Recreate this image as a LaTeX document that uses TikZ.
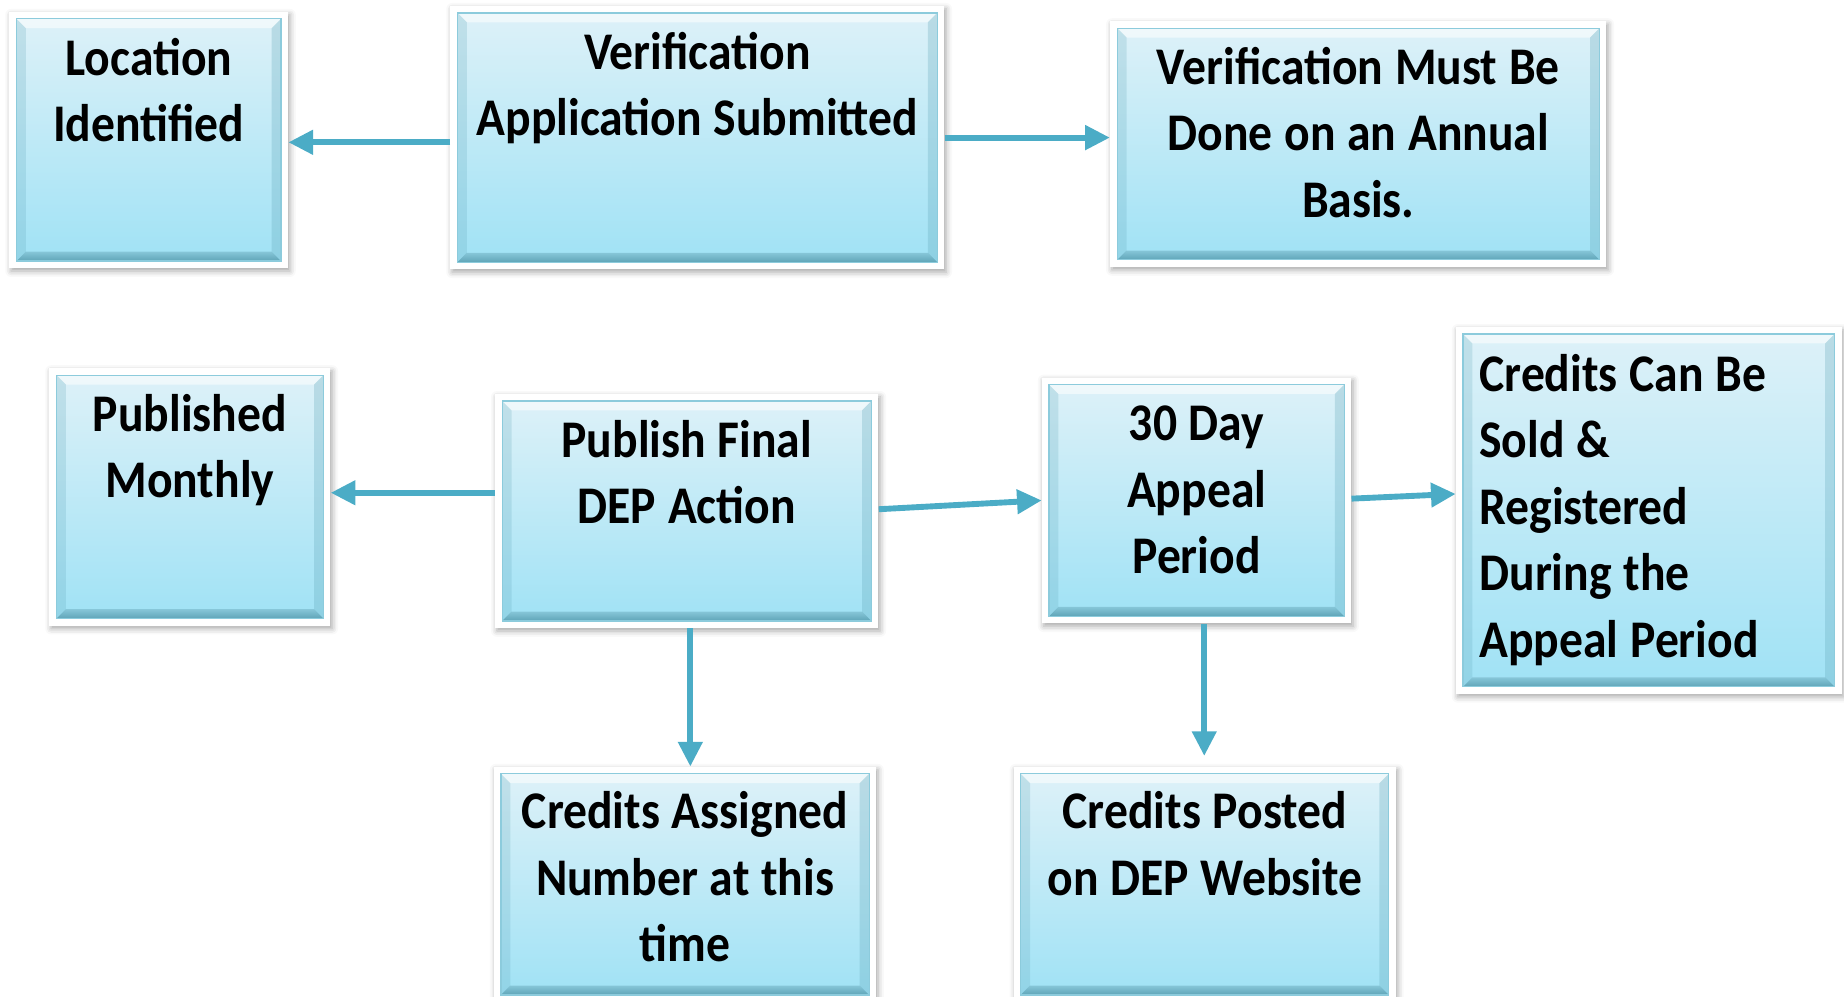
\documentclass[tikz,border=0pt]{standalone}
\usepackage{fontspec}
\setmainfont[FakeStretch=0.9]{Carlito}
\usetikzlibrary{arrows.meta,calc,shadows.blur}
\definecolor{cTop}{HTML}{DDF1F8}
\definecolor{cBot}{HTML}{A0E2F5}
\definecolor{cBevB}{HTML}{86C6D8}
\definecolor{cBevD}{HTML}{5FA4B7}
\definecolor{cEdge}{HTML}{8CCBDC}
\definecolor{arrC}{HTML}{4BACC6}
\newcommand\cardface{%
  \path let \p1=(path picture bounding box.south west), \p2=(path picture bounding box.north east) in
    (\x1+6pt,\y1+6pt) coordinate (A) (\x2-6pt,\y2-6pt) coordinate (B);
  \shade[top color=cTop,bottom color=cBot] (A) rectangle (B);
  \shade[top color=cBevB,bottom color=cBevD] (A) -- (A-|B) -- ($(A-|B)+(-8pt,8pt)$) -- ($(A)+(8pt,8pt)$) -- cycle;
  \fill[white,opacity=.55] (A|-B) -- (B) -- ($(B)+(-8pt,-8pt)$) -- ($(A|-B)+(8pt,-8pt)$) -- cycle;
  \fill[cBevD,opacity=.22] (A) -- (A|-B) -- ($(A|-B)+(8pt,-8pt)$) -- ($(A)+(8pt,8pt)$) -- cycle;
  \fill[cBevD,opacity=.28] (A-|B) -- (B) -- ($(B)+(-8pt,-8pt)$) -- ($(A-|B)+(-8pt,8pt)$) -- cycle;
  \draw[cEdge,line width=1pt] (A) rectangle (B);
}
\tikzset{
  card/.style={rectangle, fill=white, inner sep=0pt,
    blur shadow={shadow xshift=1.5pt, shadow yshift=-2.5pt, shadow blur radius=5pt, shadow opacity=35},
    path picture={\cardface}},
  lbl/.style={font=\bfseries\fontsize{45}{56.5}\selectfont, inner sep=0pt, align=center, anchor=base,
    execute at begin node={\spaceskip=10pt\relax\xspaceskip=10pt\relax}},
  arr/.style={draw=arrC, line width=5pt, -{Triangle[length=21pt,width=20pt]}},
}
\begin{document}
\begin{tikzpicture}[x=1pt,y=-1pt]
\useasboundingbox (0,0) rectangle (1568,847);
% boxes
\node[card, minimum width=237pt, minimum height=218pt] (b1) at (126.5,119) {};
\node[card, minimum width=420pt, minimum height=224pt] (b2) at (593,117) {};
\node[card, minimum width=422pt, minimum height=209pt] (b3) at (1155,122.5) {};
\node[card, minimum width=239pt, minimum height=219pt] (b4) at (161.5,422.5) {};
\node[card, minimum width=326pt, minimum height=199pt] (b5) at (584,434.5) {};
\node[card, minimum width=263pt, minimum height=209pt] (b6) at (1017.5,425.5) {};
\node[card, minimum width=328pt, minimum height=312pt] (b7) at (1402,434) {};
\node[card, minimum width=325pt, minimum height=200pt] (b8) at (582.5,752) {};
\node[card, minimum width=325pt, minimum height=200pt] (b9) at (1024.5,752) {};
% texts
\node[lbl, text width=230pt] (t1) at ($(b1.north)+(0,-54pt)$) {Location\\Identified};
\node[lbl, text width=410pt] (t2) at ($(b2.north)+(0,-54pt)$) {Verification\\Application Submitted};
\node[lbl, text width=410pt] (t3) at ($(b3.north)+(0,-54pt)$) {Verification Must Be\\Done on an Annual\\Basis.};
\node[lbl, text width=230pt] (t4) at ($(b4.north)+(0,-54pt)$) {Published\\Monthly};
\node[lbl, text width=320pt] (t5) at ($(b5.north)+(0,-54pt)$) {Publish Final\\DEP Action};
\node[lbl, text width=250pt] (t6) at ($(b6.north)+(0,-54pt)$) {30 Day\\Appeal\\Period};
\node[lbl, align=left, anchor=base west, text width=300pt] (t7) at ($(b7.north west)+(20pt,-55pt)$) {Credits Can Be\\Sold \&\\Registered\\During the\\Appeal Period};
\node[lbl, text width=320pt] (t8) at ($(b8.north)+(0,-53pt)$) {Credits Assigned\\Number at this\\time};
\node[lbl, text width=320pt] (t9) at ($(b9.north)+(0,-53pt)$) {Credits Posted\\on DEP Website};
% arrows
\draw[arr] ([yshift=-4pt]b2.west) -- ([yshift=-2pt]b1.east);
\draw[arr] (b2.east) -- ([yshift=5.5pt]b3.west);
\draw[arr] ([yshift=15.5pt]b5.west) -- ([yshift=3.5pt]b4.east);
\draw[arr] ([yshift=1.5pt]b5.east) -- (b6.west);
\draw[arr] ([yshift=1.5pt]b6.east) -- ([yshift=14pt]b7.west);
\draw[arr] ([xshift=3pt]b5.south) -- ([xshift=4.5pt]b8.north);
\draw[arr, shorten >=9pt] ([xshift=6.5pt]b6.south) -- ([xshift=-0.5pt]b9.north);
\end{tikzpicture}
\end{document}
